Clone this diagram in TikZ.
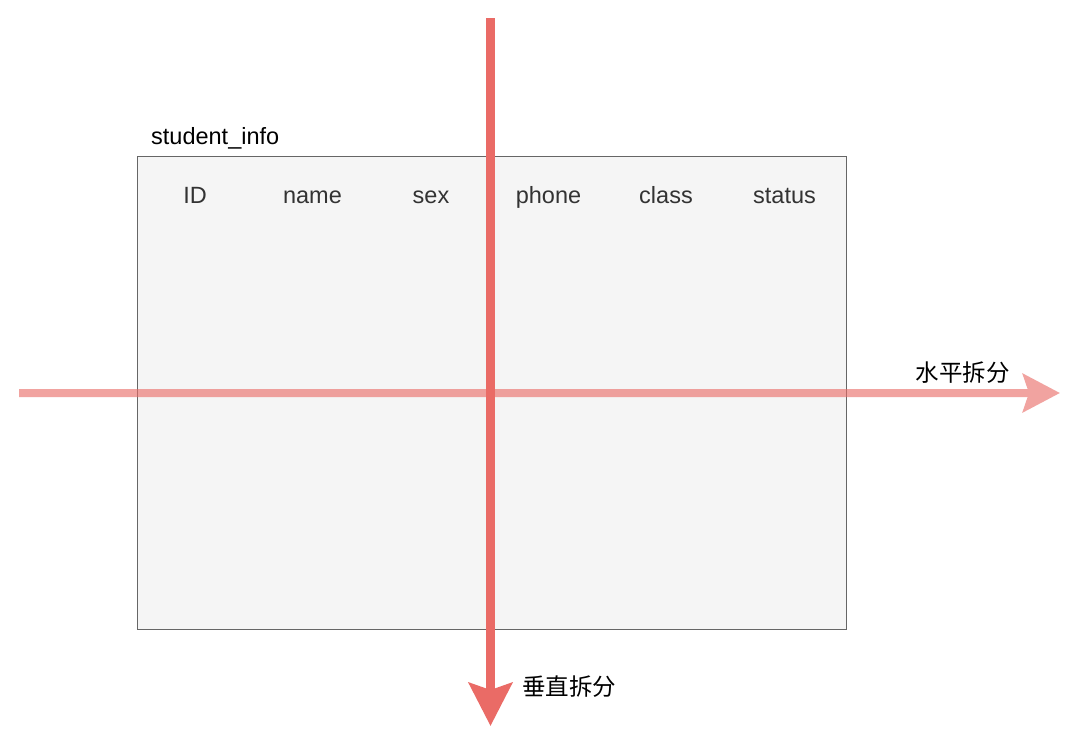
\documentclass[tikz,border=0pt]{standalone}
\usepackage{fontspec}
\setmainfont{Liberation Sans}
\newfontfamily\cjkfont{Noto Sans CJK SC}
\usetikzlibrary{arrows.meta}
\definecolor{splitred}{HTML}{EA6B66}
\definecolor{boxfill}{HTML}{F5F5F5}
\definecolor{boxline}{HTML}{666666}
\definecolor{labelc}{HTML}{333333}
\tikzset{
  colhead/.style={anchor=base, inner sep=0pt, text=labelc, font=\fontsize{23.5pt}{28pt}\selectfont},
  cjklabel/.style={inner sep=0pt, text=black, font=\cjkfont\fontsize{23.5pt}{28pt}\selectfont},
  vsplit/.style={draw=splitred, line width=9pt, -{Stealth[length=43pt,width=43pt,inset=7pt]}},
  hsplit/.style={draw=splitred, line width=8pt, -{Stealth[length=37pt,width=38pt,inset=6pt]}},
}
\begin{document}
\begin{tikzpicture}[x=1pt,y=-1pt]
\useasboundingbox[fill=white] (0,0) rectangle (1080,748);
% table box
\node[draw=boxline, fill=boxfill, line width=1pt, minimum width=709pt, minimum height=473pt, inner sep=0pt, anchor=north west] (table) at (136.5,155.5) {};
\node[anchor=base west, inner sep=0pt, text=black, font=\fontsize{23.5pt}{28pt}\selectfont] (title) at (151,144) {student\_info};
\node[colhead] (cID) at (195,203) {ID};
\node[colhead] (cname) at (312.5,203) {name};
\node[colhead] (csex) at (431,203) {sex};
\node[colhead] (cphone) at (548.5,203) {phone};
\node[colhead] (cclass) at (666,203) {class};
\node[colhead] (cstatus) at (784.5,203) {status};
% split arrows
\coordinate (vs) at (490.5,18);
\coordinate (ve) at (490.5,726);
\coordinate (hs) at (19,393);
\coordinate (he) at (1060,393);
\draw[vsplit] (vs) -- (ve);
\begin{scope}[transparency group, opacity=0.62]
\draw[hsplit] (hs) -- (he);
\end{scope}
\node[cjklabel] (hlabel) at (962.5,373) {水平拆分};
\node[cjklabel] (vlabel) at (569,687) {垂直拆分};
\end{tikzpicture}
\end{document}
